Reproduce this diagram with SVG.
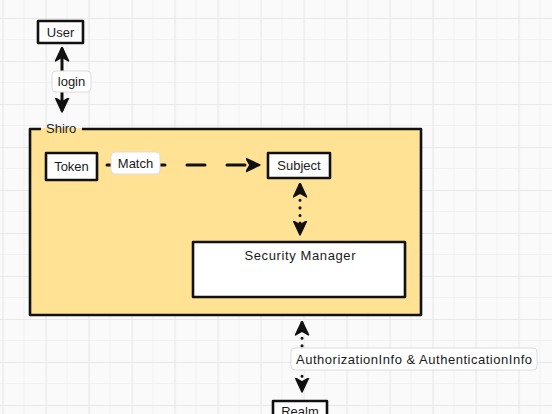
<svg xmlns="http://www.w3.org/2000/svg" width="552" height="414" viewBox="0 0 552 414">
<style>
.box{fill:#fff;stroke:#111;stroke-width:2.6;stroke-linejoin:round}
.lbl{fill:#fff;stroke:#dcdcdc;stroke-width:1}
.t{font-family:"Liberation Sans",Arial,sans-serif;font-size:13px;fill:#1a1a1a;text-anchor:middle}
.c{fill:none;stroke:#111;stroke-width:3;stroke-linecap:round}
</style>
<defs>
<pattern id="grid" patternUnits="userSpaceOnUse" x="2.5" y="18" width="43" height="43">
<rect width="43" height="43" fill="#fafafa"/>
<path d="M21.5 0V43M0 21.5H43" stroke="#f1f1f1" stroke-width="1" fill="none"/>
<path d="M0.5 0V43M0 0.5H43" stroke="#e8e8e8" stroke-width="1.2" fill="none"/>
</pattern>
<marker id="ah" viewBox="0 0 12 12" refX="10" refY="6" markerWidth="15" markerHeight="15" markerUnits="userSpaceOnUse" orient="auto-start-reverse">
<path d="M0.5,0.8 L11.5,6 L0.5,11.2 L3.5,6 Z" fill="#111" stroke="#111" stroke-width="1.2" stroke-linejoin="round"/>
</marker>
</defs>
<rect width="552" height="414" fill="url(#grid)"/>

<g id="shiro">
<rect x="30" y="128" width="391" height="187" fill="#ffe294"/>
<path d="M41 129H30V315H421V129H82" fill="none" stroke="#111" stroke-width="2.6" stroke-linejoin="round"/>
<text class="t" x="46" y="133" style="text-anchor:start">Shiro</text>
</g>

<g id="connectors">
<line class="c" x1="62" y1="49" x2="62" y2="110" marker-start="url(#ah)" marker-end="url(#ah)"/>
<line class="c" x1="107" y1="165" x2="258" y2="165" stroke-dasharray="18 22" stroke-linecap="butt" marker-end="url(#ah)"/>
<line class="c" x1="300" y1="185" x2="300" y2="233" stroke-dasharray="0.1 7.5" marker-start="url(#ah)" marker-end="url(#ah)"/>
<line class="c" x1="302" y1="323" x2="302" y2="390" stroke-dasharray="0.1 7.5" marker-start="url(#ah)" marker-end="url(#ah)"/>
<g id="label-login"><rect class="lbl" x="52" y="71" width="39" height="21" rx="4"/><text class="t" x="71.5" y="86">login</text></g>
<g id="label-match"><rect class="lbl" x="111" y="152" width="49" height="22" rx="4"/><text class="t" x="135.5" y="168">Match</text></g>
<g id="label-info"><rect class="lbl" x="291" y="348" width="246" height="22" rx="4"/><text class="t" x="414" y="364" textLength="236" lengthAdjust="spacing">AuthorizationInfo &amp; AuthenticationInfo</text></g>
</g>

<g id="user"><rect class="box" x="38" y="21" width="45" height="22"/><text class="t" x="60.5" y="37">User</text></g>
<g id="token"><rect class="box" x="46" y="153" width="51" height="27"/><text class="t" x="71.5" y="171">Token</text></g>
<g id="subject"><rect class="box" x="268" y="153" width="62" height="25"/><text class="t" x="299" y="170">Subject</text></g>
<g id="security-manager"><rect class="box" x="193" y="242" width="212" height="55"/><text class="t" x="300" y="260" textLength="111" lengthAdjust="spacing">Security Manager</text></g>
<g id="realm"><rect class="box" x="273" y="401" width="54" height="24"/><text class="t" x="300" y="416">Realm</text></g>
</svg>
